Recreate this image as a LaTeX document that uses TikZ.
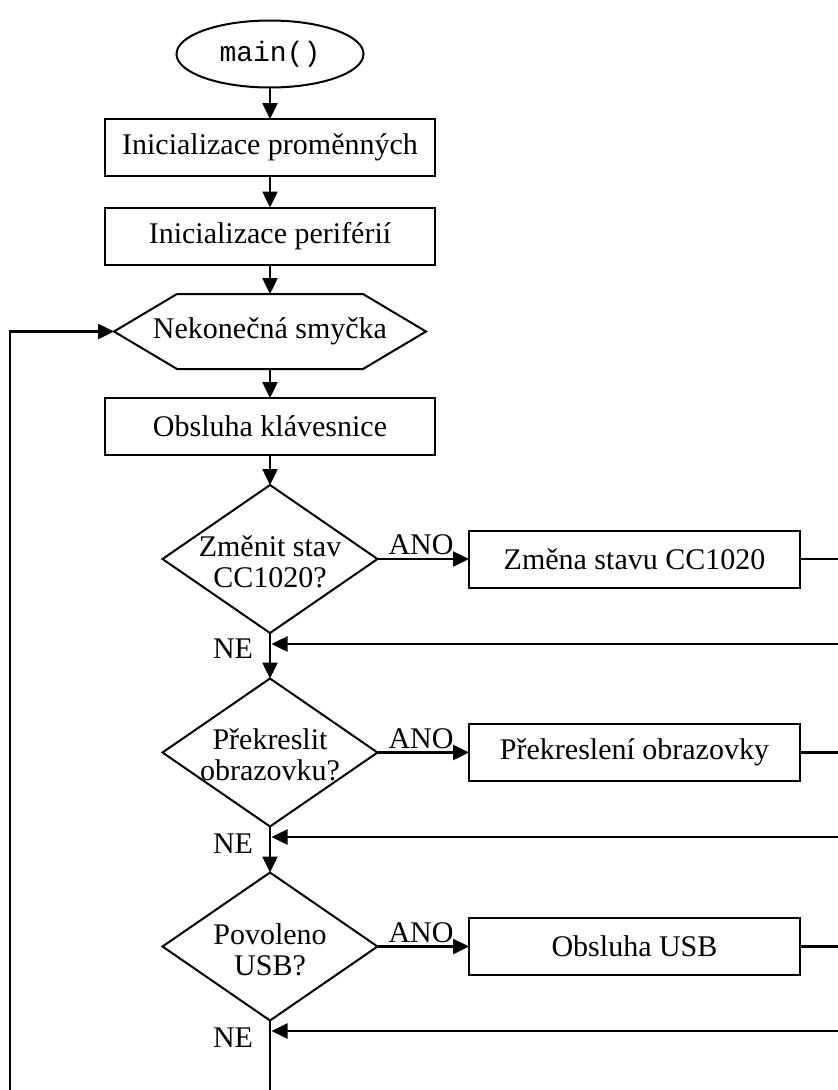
\documentclass[tikz,border=0pt]{standalone}
\usepackage{fontspec}
\setmainfont{Liberation Serif}
\setmonofont{Liberation Mono}
\usetikzlibrary{arrows.meta,shapes.geometric}
\begin{document}
\begin{tikzpicture}[x=1pt,y=-1pt,
  every node/.style={font=\fontsize{30}{31}\selectfont, inner sep=0pt, outer sep=0pt},
  box/.style={draw, line width=2pt, minimum width=330pt, minimum height=57pt},
  rbox/.style={draw, line width=2pt, minimum width=331pt, minimum height=57pt},
  dec/.style={draw, diamond, line width=2pt, minimum width=215pt, minimum height=148pt},
  conn/.style={line width=2.5pt, -{Triangle[length=16pt,width=15pt]}},
  shapeline/.style={line width=2pt, line join=miter}
]
\useasboundingbox (0,0) rectangle (838,1090);

% main column
\node[draw, ellipse, line width=2pt, minimum width=187pt, minimum height=67pt,
      font=\ttfamily\fontsize{28}{30}\selectfont] (start) at (270,54) {main()};
\node[box] (r1) at (270,147.5) {Inicializace proměnných};
\node[box] (r2) at (270,236) {Inicializace periférií};
\node[minimum width=312pt, minimum height=75pt] (hex) at (270,331.5) {Nekonečná smyčka};
\draw[shapeline] (hex.west) -- ([xshift=63pt]hex.north west) -- ([xshift=-63pt]hex.north east)
  -- (hex.east) -- ([xshift=-63pt]hex.south east) -- ([xshift=63pt]hex.south west) -- cycle;
\node[box] (r3) at (270,426.5) {Obsluha klávesnice};

% decisions
\node[dec] (d1) at (270,559) {};
\node[align=center] (t1) at ([yshift=-3pt]d1.center) {Změnit stav\\CC1020?};
\node[dec] (d2) at (270,752.5) {};
\node[align=center] (t2) at ([yshift=-2pt]d2.center) {Překreslit\\obrazovku?};
\node[dec] (d3) at (270,946.5) {};
\node[align=center] (t3) at ([yshift=-3pt]d3.center) {Povoleno\\USB?};

% right boxes
\node[rbox] (b1) at (634.5,559) {Změna stavu CC1020};
\node[rbox] (b2) at (634.5,752.5) {Překreslení obrazovky};
\node[rbox] (b3) at (634.5,946.5) {Obsluha USB};

% labels
\node (a1) at (421,545) {ANO};
\node (a2) at (421,738.5) {ANO};
\node (a3) at (421,932.5) {ANO};
\node (n1) at (233,649) {NE};
\node (n2) at (233,843.5) {NE};
\node (n3) at (233,1037.5) {NE};

% coordinates for free ends
\coordinate (e1) at (850,644);
\coordinate (e2) at (850,837);
\coordinate (e3) at (850,1031);
\coordinate (j1) at (271.5,644);
\coordinate (j2) at (271.5,837);
\coordinate (j3) at (271.5,1031);
\coordinate (f1) at (270,1110);
\coordinate (f2) at (10,1110);

% connectors
\draw[conn] (start.south) -- (r1.north);
\draw[conn] (r1.south) -- (r2.north);
\draw[conn] (r2.south) -- (hex.north);
\draw[conn] (hex.south) -- (r3.north);
\draw[conn] (r3.south) -- (d1.north);
\draw[conn] (d1.east) -- (b1.west);
\draw[conn] (d2.east) -- (b2.west);
\draw[conn] (d3.east) -- (b3.west);
\draw[conn] (d1.south) -- (d2.north);
\draw[conn] (d2.south) -- (d3.north);
\draw[conn] (b1.east) -| (e1) -- (j1);
\draw[conn] (b2.east) -| (e2) -- (j2);
\draw[conn] (b3.east) -| (e3) -- (j3);
\draw[conn] (d3.south) -- (f1) -- (f2) |- (hex.west);
\end{tikzpicture}
\end{document}
